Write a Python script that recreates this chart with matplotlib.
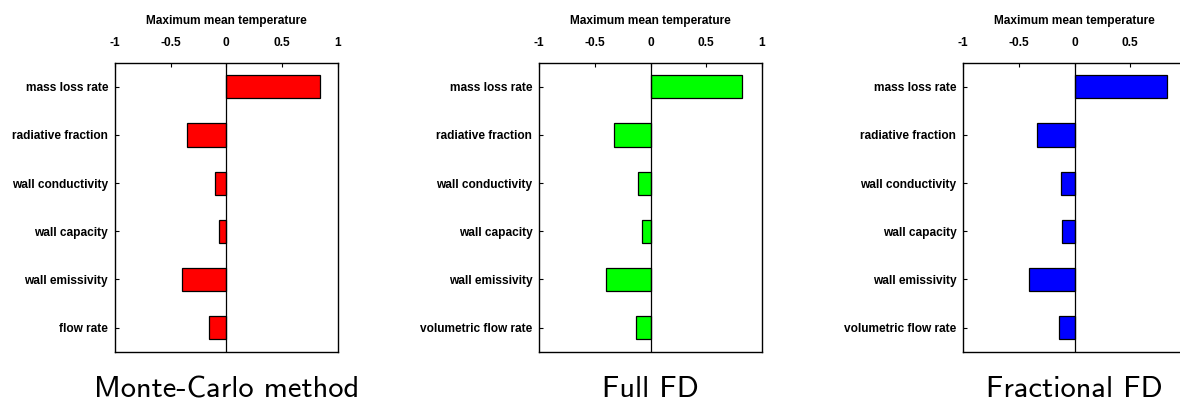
import matplotlib
matplotlib.use("Agg")
import matplotlib.pyplot as plt

# sensitivity indices, top to bottom
mc_labels = ["mass loss rate", "radiative fraction", "wall conductivity",
             "wall capacity", "wall emissivity", "flow rate"]
fd_labels = ["mass loss rate", "radiative fraction", "wall conductivity",
             "wall capacity", "wall emissivity", "volumetric flow rate"]

mc_values = [0.845, -0.356, -0.10, -0.066, -0.40, -0.155]
full_fd_values = [0.823, -0.332, -0.111, -0.075, -0.398, -0.132]
frac_fd_values = [0.826, -0.335, -0.123, -0.111, -0.413, -0.144]

x_ticks = [-1, -0.5, 0, 0.5, 1]
x_tick_labels = ["-1", "-0.5", "0", "0.5", "1"]

W, H = 1180, 401
LABEL_FONT = "Liberation Sans"
FS = 8.6


def panel(fig, left_px, labels, values, color, caption):
    ax = fig.add_axes([left_px / W, 49.3 / H, 222.6 / W, 289.0 / H])
    pos = list(range(len(labels)))
    ax.barh(pos, values, height=0.48, color=color, edgecolor="black", linewidth=0.9)
    ax.axvline(0, color="black", linewidth=0.9)
    ax.set_xlim(-1, 1)
    ax.set_ylim(len(labels) - 0.5, -0.5)
    ax.set_yticks(pos)
    ax.set_yticklabels(labels, fontsize=FS, fontweight="bold", family=LABEL_FONT)
    ax.set_xticks(x_ticks)
    ax.set_xticklabels(x_tick_labels, fontsize=FS, fontweight="bold", family=LABEL_FONT)
    ax.xaxis.tick_top()
    ax.xaxis.set_label_position("top")
    ax.tick_params(axis="x", direction="in", length=3, width=0.8, pad=10)
    ax.tick_params(axis="y", direction="in", length=3, width=0.8, pad=5)
    ax.set_xlabel("Maximum mean temperature", fontsize=FS, fontweight="bold",
                  family=LABEL_FONT, labelpad=9)
    for sp in ax.spines.values():
        sp.set_linewidth(1.0)
    cx = (left_px + 111.3) / W
    fig.text(cx, 4 / H, caption, ha="center", va="baseline", fontsize=22, family="cmss10")
    return ax


fig = plt.figure(figsize=(W / 100, H / 100), dpi=100)
panel(fig, 115.0, mc_labels, mc_values, "#ff0000", "Monte-Carlo method")
panel(fig, 539.3, fd_labels, full_fd_values, "#00ff00", "Full FD")
ax3 = panel(fig, 963.3, fd_labels, frac_fd_values, "#0000ff", "Fractional FD")
# the right end of the last panel runs past the page edge, as in the source
ax3.get_xticklabels()[-1].set_visible(False)
fig.savefig("out.png", dpi=100)
